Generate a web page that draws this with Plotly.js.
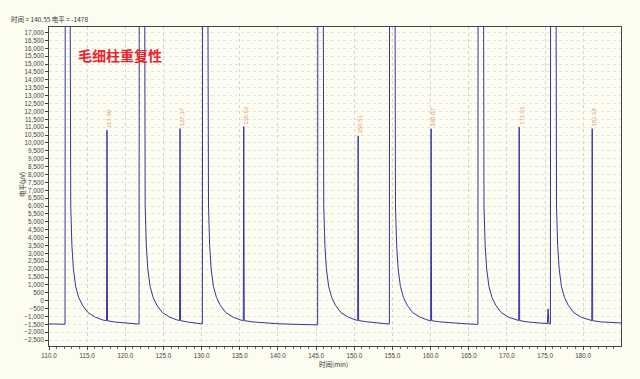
<!DOCTYPE html>
<html>
<head>
<meta charset="utf-8">
<script src="https://cdn.plot.ly/plotly-3.0.1.min.js"></script>
<style>html,body{margin:0;padding:0;background:#fcfcf0;}#chart{width:640px;height:379px;}</style>
</head>
<body>
<div id="chart"></div>
<script>
// Chromatogram signal (time in min, signal in µV); 40000 = off-scale injection spike
var timeMin = [
  110.0, 112.1,
  112.15, 112.65, 112.85, 113.0, 113.2, 113.5, 113.9, 114.4, 115.1, 116.1, 117.1, 117.54, 117.60, 117.66, 118.6, 120.1, 121.8,
  121.85, 122.45, 122.6, 122.75, 122.95, 123.25, 123.65, 124.15, 124.85, 125.85, 126.85, 127.11, 127.17, 127.23, 128.3, 130.1,
  130.15, 130.7, 130.9, 131.05, 131.25, 131.55, 131.95, 132.45, 133.15, 134.15, 135.15, 135.46, 135.52, 135.58, 136.6, 138.1, 140.0, 142.5, 145.2,
  145.25, 145.85, 146.0, 146.15, 146.35, 146.65, 147.05, 147.55, 148.25, 149.25, 150.25, 150.45, 150.51, 150.57, 151.7, 153.2, 154.6,
  154.65, 155.25, 155.4, 155.55, 155.75, 156.05, 156.45, 156.95, 157.65, 158.65, 159.65, 160.01, 160.07, 160.13, 161.2, 162.7, 164.5, 166.2,
  166.25, 166.85, 167.0, 167.15, 167.35, 167.65, 168.05, 168.55, 169.25, 170.25, 171.25, 171.55, 171.61, 171.67, 172.8, 174.3, 175.3, 175.4, 175.5, 175.7,
  175.75, 176.35, 176.5, 176.65, 176.85, 177.15, 177.55, 178.05, 178.75, 179.75, 180.75, 181.12, 181.18, 181.24, 182.3, 183.8, 185.0
];
var signalUv = [
  -1470, -1490,
  40000, 40000, 6000, 3500, 2000, 900, 200, -300, -750, -1050, -1230, -1265, 10800, -1270, -1350, -1420, -1480,
  40000, 40000, 6000, 3500, 2000, 900, 200, -300, -750, -1050, -1230, -1255, 10900, -1260, -1360, -1470,
  40000, 40000, 6000, 3500, 2000, 900, 200, -300, -750, -1050, -1230, -1255, 11040, -1260, -1340, -1410, -1460, -1500, -1530,
  40000, 40000, 6000, 3500, 2000, 900, 200, -300, -750, -1050, -1230, -1250, 10450, -1255, -1340, -1420, -1480,
  40000, 40000, 6000, 3500, 2000, 900, 200, -300, -750, -1050, -1230, -1260, 10900, -1265, -1340, -1410, -1460, -1500,
  40000, 40000, 6000, 3500, 2000, 900, 200, -300, -750, -1050, -1230, -1255, 11000, -1260, -1350, -1420, -1450, -520, -1460, -1470,
  40000, 40000, 6000, 3500, 2000, 900, 200, -300, -750, -1050, -1230, -1260, 10900, -1265, -1340, -1390, -1410
];
// Labelled peaks
var peakTimes = [117.60, 127.17, 135.52, 150.51, 160.07, 171.61, 181.18];
var peakHeights = [10800, 10900, 11040, 10450, 10900, 11000, 10900];
var peakLabels = ["117.60", "127.17", "135.52", "150.51", "160.07", "171.61", "181.18"];

var headerText = "时间 = 140.55 电平 = -1478";
var noteText = "毛细柱重复性";
var xTitle = "时间(min)";
var yTitle = "电平(μV)";

var trace = {
  x: timeMin, y: signalUv, type: 'scatter', mode: 'lines',
  line: {color: '#34349f', width: 1}, hoverinfo: 'skip'
};

var smallFont = 'Liberation Sans, Arial, sans-serif';
var cjkFont = 'Noto Sans CJK SC, Liberation Sans, sans-serif';

var anns = peakTimes.map(function (t, i) {
  return {x: t, y: peakHeights[i], xref: 'x', yref: 'y', text: peakLabels[i],
    showarrow: false, textangle: -90, xanchor: 'center', yanchor: 'bottom',
    xshift: 2, yshift: 0, font: {size: 6, color: '#e39a55', family: smallFont}};
});
anns.push({x: 0.047, y: 0.912, xref: 'paper', yref: 'paper', text: '<b>' + noteText + '</b>',
  showarrow: false, xanchor: 'left', yanchor: 'middle',
  font: {size: 14, color: '#e8252a', family: 'Noto Sans CJK SC, sans-serif'}});
anns.push({x: -0.0472, y: 0.505, xref: 'paper', yref: 'paper', text: yTitle, textangle: -90,
  showarrow: false, xanchor: 'center', yanchor: 'middle',
  font: {size: 6.5, color: '#333', family: cjkFont}});
anns.push({x: 0.498, y: -0.056, xref: 'paper', yref: 'paper', text: xTitle,
  showarrow: false, xanchor: 'center', yanchor: 'middle',
  font: {size: 6.5, color: '#333', family: cjkFont}});
anns.push({x: (9 - 49) / 572, y: (346 - 19) / 319, xref: 'paper', yref: 'paper', text: headerText,
  showarrow: false, xanchor: 'left', yanchor: 'middle',
  font: {size: 6.5, color: '#333', family: cjkFont}});

var tickFont = {size: 6.3, color: '#444', family: smallFont};

var layout = {
  width: 640, height: 379,
  paper_bgcolor: '#fcfcf0', plot_bgcolor: '#fdfdf4',
  margin: {l: 49, r: 19, t: 27, b: 33},
  showlegend: false,
  xaxis: {
    range: [110, 184.95], dtick: 5, tick0: 110, tickformat: '.1f',
    ticks: 'outside', ticklen: 3, tickcolor: '#444',
    minor: {dtick: 1, ticks: 'outside', ticklen: 2, tickcolor: '#666', showgrid: false},
    showgrid: true, gridcolor: '#d4d4cc', griddash: 'dot', gridwidth: 1,
    zeroline: false, showline: true, linecolor: '#444', linewidth: 1, mirror: true,
    tickfont: tickFont
  },
  yaxis: {
    range: [-2870, 17350], dtick: 500, tick0: 0, tickformat: ',d',
    ticks: 'outside', ticklen: 3, tickcolor: '#444',
    showgrid: true, gridcolor: '#e4e4da', griddash: 'dot', gridwidth: 1,
    zeroline: false, showline: true, linecolor: '#444', linewidth: 1, mirror: true,
    tickfont: tickFont
  },
  annotations: anns
};

Plotly.newPlot('chart', [trace], layout, {displayModeBar: false, staticPlot: true});
</script>
</body>
</html>
